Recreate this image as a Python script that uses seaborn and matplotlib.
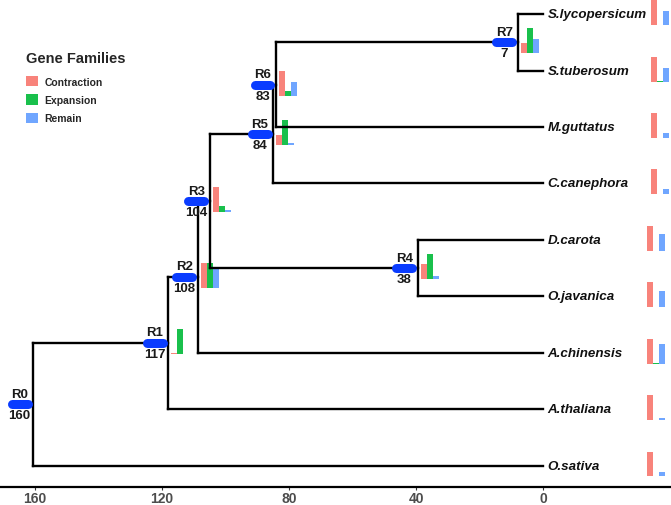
import matplotlib
matplotlib.use("Agg")
import matplotlib.pyplot as plt
import seaborn as sns
import numpy as np
from matplotlib.patches import Patch

sns.set_theme(style="white")
plt.rcParams['font.family'] = ['Liberation Sans', 'DejaVu Sans']

# ---------------- data ----------------
tips = ["S.lycopersicum", "S.tuberosum", "M.guttatus", "C.canephora", "D.carota",
        "O.javanica", "A.chinensis", "A.thaliana", "O.sativa"]
tip_rows = [9, 8, 7, 6, 5, 4, 3, 2, 1]

nodes = ["R0", "R1", "R2", "R3", "R4", "R5", "R6", "R7"]
node_age = [160.6, 118.1, 108.7, 104.9, 39.4, 85.0, 84.1, 7.9]
node_label = ["160", "117", "108", "104", "38", "84", "83", "7"]
node_children = {
    "R0": ["R1", "O.sativa"],
    "R1": ["R2", "A.thaliana"],
    "R2": ["R3", "A.chinensis"],
    "R3": ["R5", "R4"],
    "R4": ["D.carota", "O.javanica"],
    "R5": ["R6", "C.canephora"],
    "R6": ["R7", "M.guttatus"],
    "R7": ["S.lycopersicum", "S.tuberosum"],
}

# relative gene-family changes (1 = tallest bar)
node_contraction = {"R1": 0.04, "R2": 1.0, "R3": 1.0, "R4": 0.6, "R5": 0.4, "R6": 1.0, "R7": 0.4}
node_expansion = {"R1": 1.0, "R2": 1.0, "R3": 0.24, "R4": 1.0, "R5": 1.0, "R6": 0.2, "R7": 1.0}
node_remain = {"R1": 0.0, "R2": 0.76, "R3": 0.08, "R4": 0.12, "R5": 0.08, "R6": 0.56, "R7": 0.56}

tip_contraction = [1.0, 1.0, 1.0, 1.0, 1.0, 1.0, 1.0, 1.0, 1.0]
tip_expansion = [0.02, 0.0, 0.0, 0.0, 0.0, 0.0, 0.0, 0.0, 0.02]
tip_remain = [0.56, 0.56, 0.2, 0.2, 0.68, 0.64, 0.8, 0.08, 0.2]

categories = ["Contraction", "Expansion", "Remain"]
colors = ["#F8766D", "#00BA38", "#619CFF"]
xticks = [160, 120, 80, 40, 0]

# ---------------- layout ----------------
fig = plt.figure(figsize=(6.71, 5.06), dpi=100)
ax = fig.add_axes([0, 18 / 506, 1, 488 / 506])
ax.set_xlim(171.0, -40.3)
ax.set_ylim(0.619, 9.268)

age = dict(zip(nodes, node_age))
for t in tips:
    age[t] = 0.0
ypos = dict(zip(tips, tip_rows))


def get_y(n):
    if n in ypos:
        return ypos[n]
    ys = [get_y(c) for c in node_children[n]]
    ypos[n] = sum(ys) / len(ys)
    return ypos[n]


for n in nodes:
    get_y(n)

# tree edges
lw = 1.7
for n in nodes:
    cs = node_children[n]
    cy = [ypos[c] for c in cs]
    ax.plot([age[n], age[n]], [min(cy), max(cy)], color="black", lw=lw,
            solid_capstyle="projecting", zorder=3)
    for c in cs:
        ax.plot([age[n], age[c]], [ypos[c], ypos[c]], color="black", lw=lw,
                solid_capstyle="projecting", zorder=3)

# bar sizes
bw = 6 / 3.175
hmax = 25 / 56.45
base_off = 11 / 56.45


def draw_bars(x0, y, vals):
    for i, (v, col) in enumerate(zip(vals, colors)):
        h = max(v * hmax, 0.004)
        ax.bar(x0 - i * bw, h, width=-bw, bottom=y - base_off, align="edge",
               color=col, alpha=0.9, linewidth=0, zorder=2)


for n in nodes:
    if n in node_contraction:
        draw_bars(age[n] - 0.95, ypos[n],
                  [node_contraction[n], node_expansion[n], node_remain[n]])

for i, t in enumerate(tips):
    x0 = -34.0 if tip_rows[i] >= 6 else -32.8
    draw_bars(x0, ypos[t], [tip_contraction[i], tip_expansion[i], tip_remain[i]])

# node pills and labels
for n, lab in zip(nodes, node_label):
    x_r = age[n] + 0.3 + 1.42
    x_l = age[n] + 0.3 + 25 / 3.175 - 1.42
    ax.plot([x_l, x_r], [ypos[n], ypos[n]], color="#0A3CFF", lw=6.5,
            solid_capstyle="round", zorder=4)
    xc = age[n] + 0.3 + 12.5 / 3.175
    ax.text(xc, ypos[n] + 4.5 / 56.45, n, ha="center", va="bottom",
            fontsize=9.5, fontweight="bold", color="#1a1a1a", zorder=5)
    ax.text(xc, ypos[n] - 5 / 56.45, lab, ha="center", va="top",
            fontsize=9.5, fontweight="bold", color="#1a1a1a", zorder=5)

# tip labels
for t in tips:
    ax.text(-1.4, ypos[t], t, ha="left", va="center", fontsize=9.6,
            fontweight="bold", fontstyle="italic", color="#111111", zorder=5)

# axes styling
sns.despine(ax=ax, left=True, top=True, right=True)
ax.spines["bottom"].set_linewidth(1.6)
ax.spines["bottom"].set_color("black")
ax.set_yticks([])
ax.set_xticks(xticks)
ax.set_xticklabels([str(v) for v in xticks])
ax.tick_params(axis="x", length=2.0, width=0.8, color="#333333", pad=1.2,
               labelsize=10, labelcolor="#4D4D4D", bottom=True)
for lab in ax.get_xticklabels():
    lab.set_fontweight("bold")
ax.grid(False)

# legend
handles = [Patch(facecolor=c, edgecolor="none", alpha=0.9, label=l)
           for c, l in zip(colors, categories)]
leg = ax.legend(handles=handles, title="Gene Families", loc="upper left",
                bbox_to_anchor=(26 / 671, 1 - 52 / 488), frameon=False,
                handlelength=1.15, handleheight=1.15, handletextpad=0.6,
                labelspacing=0.72, borderaxespad=0, borderpad=0,
                prop={"size": 7.5, "weight": "bold"},
                title_fontproperties={"size": 10.5, "weight": "bold"},
                alignment="left")
leg._legend_box.sep = 8

fig.savefig("out.png", dpi=100)
